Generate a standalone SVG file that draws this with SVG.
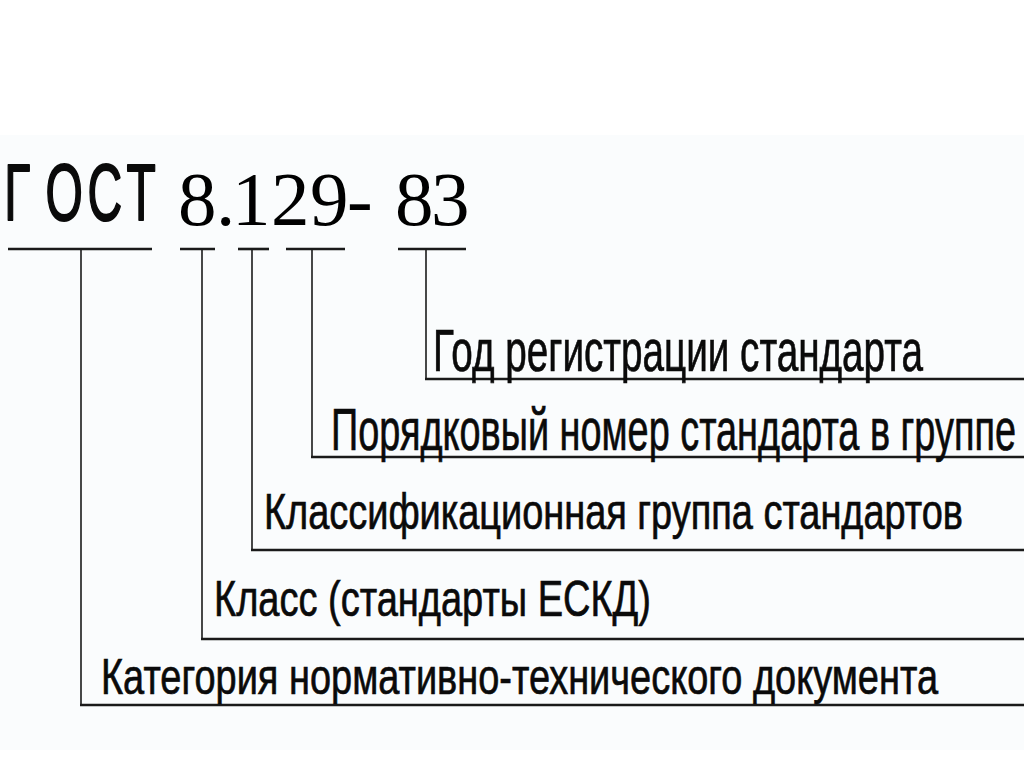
<svg xmlns="http://www.w3.org/2000/svg" width="1024" height="767" viewBox="0 0 1024 767">
<style>
.lbl{font-family:"Liberation Sans",Arial,sans-serif;fill:#0a0a0a;stroke:#0a0a0a;stroke-width:0.7}
.big{font-size:60px}
.sm{font-size:50px}
.bar{stroke:#1a1a1a;stroke-width:2.6;fill:none}
.con{stroke:#1a1a1a;stroke-width:1.6;fill:none}
.rail{stroke:#1a1a1a;stroke-width:2.6;fill:none}
</style>
<rect x="0" y="0" width="1024" height="767" fill="#ffffff"/>
<rect x="0" y="135" width="1024" height="615" fill="#fafcfd"/>
<g id="title">
  <g transform="translate(0,220) scale(0.6,1)">
    <text class="lbl" x="7 76 146 211" y="0" style="font-size:80px;stroke-width:2;stroke-linejoin:round">ГОСТ</text>
  </g>
  <text x="178 216 232 271 310 347 378 395 431" y="225" style="font-family:'Liberation Serif','Times New Roman',serif;font-size:77px;fill:#000">8.129- 83</text>
</g>
<g id="connectors">
  <line class="bar" x1="8" y1="249" x2="152" y2="249"/>
  <line class="bar" x1="180" y1="249" x2="215" y2="249"/>
  <line class="bar" x1="238" y1="249" x2="269" y2="249"/>
  <line class="bar" x1="286" y1="249" x2="345" y2="249"/>
  <line class="bar" x1="398" y1="249" x2="466" y2="249"/>
  <path class="con" d="M426 249V379"/><line class="rail" x1="425" y1="379" x2="1024" y2="379"/>
  <path class="con" d="M312 249V457"/><line class="rail" x1="311" y1="457" x2="1024" y2="457"/>
  <path class="con" d="M252 249V550"/><line class="rail" x1="251" y1="550" x2="1024" y2="550"/>
  <path class="con" d="M202 249V639"/><line class="rail" x1="201" y1="639" x2="1024" y2="639"/>
  <path class="con" d="M81 249V705"/><line class="rail" x1="80" y1="705" x2="1024" y2="705"/>
</g>
<g id="node-year"><text class="lbl big" x="433" y="371" textLength="490" lengthAdjust="spacingAndGlyphs">Год регистрации стандарта</text></g>
<g id="node-number"><text class="lbl big" x="331" y="450" textLength="685" lengthAdjust="spacingAndGlyphs">Порядковый номер стандарта в группе</text></g>
<g id="node-group"><text class="lbl sm" x="264" y="529" textLength="699" lengthAdjust="spacingAndGlyphs">Классификационная группа стандартов</text></g>
<g id="node-class"><text class="lbl sm" x="214" y="616" textLength="437" lengthAdjust="spacingAndGlyphs">Класс (стандарты ЕСКД)</text></g>
<g id="node-category"><text class="lbl sm" x="101" y="694" textLength="837" lengthAdjust="spacingAndGlyphs">Категория нормативно-технического документа</text></g>
</svg>
